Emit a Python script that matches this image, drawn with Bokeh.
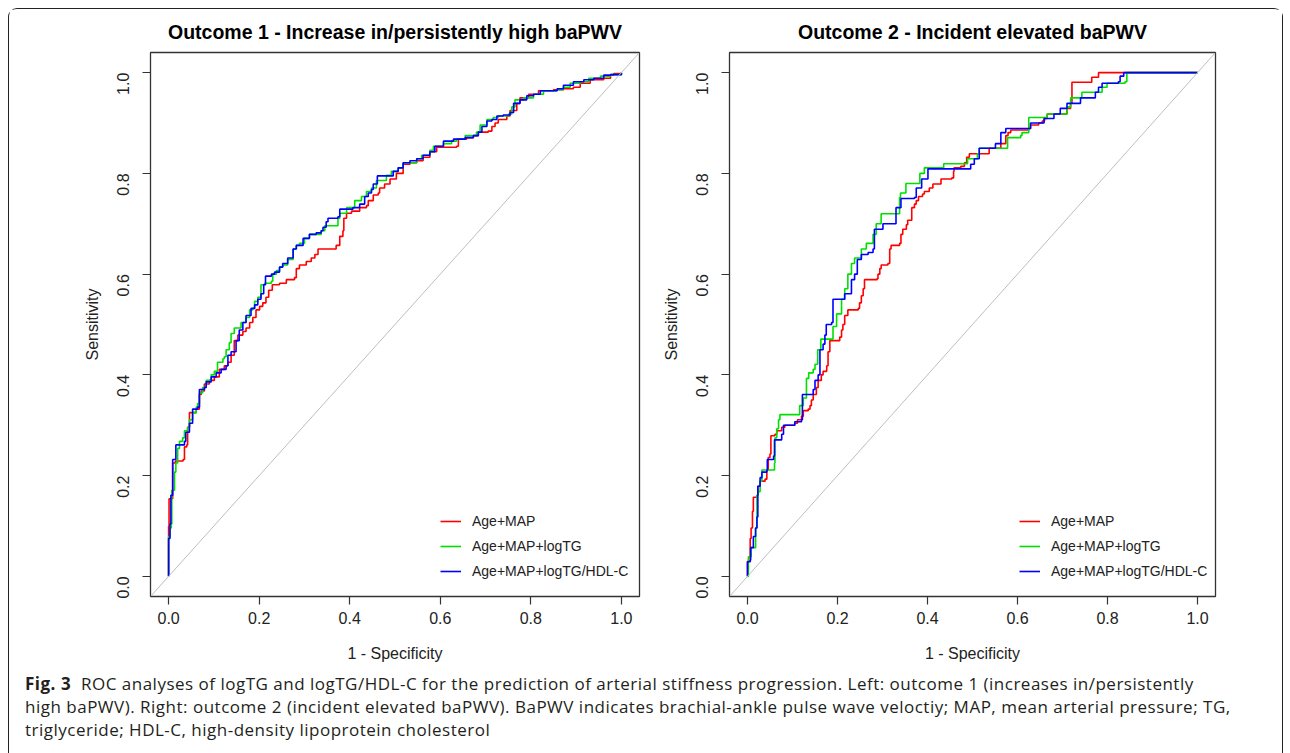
import math
from bokeh.plotting import figure
from bokeh.models import Range1d, Slope, FixedTicker, Div
from bokeh.layouts import row, column
from bokeh.embed import file_html
from bokeh.resources import INLINE

# ---------------- data (1 - specificity, sensitivity) ----------------
titles = ["Outcome 1 - Increase in/persistently high baPWV",
          "Outcome 2 - Incident elevated baPWV"]
series_names = ["Age+MAP", "Age+MAP+logTG", "Age+MAP+logTG/HDL-C"]
tick_values = [0.0, 0.2, 0.4, 0.6, 0.8, 1.0]
tick_labels = ["0.0", "0.2", "0.4", "0.6", "0.8", "1.0"]

# Outcome 1
o1_agemap_fpr = [0, 0, 0.001, 0.007, 0.009, 0.015, 0.032, 0.035, 0.040, 0.042, 0.046, 0.061, 0.068, 0.072,
                 0.079, 0.090, 0.101, 0.112, 0.123, 0.131, 0.138, 0.145, 0.153, 0.164, 0.171, 0.179, 0.186,
                 0.193, 0.201, 0.208, 0.215, 0.221, 0.229, 0.245, 0.260, 0.278, 0.282, 0.289, 0.304, 0.315,
                 0.323, 0.330, 0.359, 0.370, 0.378, 0.385, 0.387, 0.393, 0.404, 0.422, 0.437, 0.441, 0.452,
                 0.463, 0.466, 0.477, 0.489, 0.503, 0.518, 0.533, 0.548, 0.562, 0.577, 0.592, 0.636, 0.640,
                 0.658, 0.673, 0.684, 0.706, 0.714, 0.721, 0.728, 0.747, 0.754, 0.769, 0.776, 0.795, 0.817,
                 0.850, 0.872, 0.894, 0.909, 0.931, 0.961, 0.976, 0.983, 1.0]
o1_agemap_tpr = [0, 0.10, 0.154, 0.154, 0.225, 0.229, 0.232, 0.257, 0.261, 0.296, 0.325, 0.332, 0.361, 0.368,
                 0.382, 0.389, 0.396, 0.411, 0.418, 0.425, 0.439, 0.468, 0.479, 0.486, 0.493, 0.504, 0.514,
                 0.529, 0.536, 0.543, 0.554, 0.568, 0.579, 0.582, 0.589, 0.593, 0.611, 0.618, 0.625, 0.632,
                 0.639, 0.650, 0.650, 0.657, 0.675, 0.686, 0.711, 0.721, 0.725, 0.732, 0.736, 0.746, 0.757,
                 0.761, 0.771, 0.779, 0.789, 0.800, 0.818, 0.821, 0.825, 0.832, 0.843, 0.852, 0.854, 0.868,
                 0.871, 0.875, 0.882, 0.884, 0.893, 0.900, 0.907, 0.914, 0.925, 0.939, 0.950, 0.957, 0.964,
                 0.966, 0.968, 0.971, 0.979, 0.986, 0.989, 0.995, 0.998, 1.0]

o1_logtg_fpr = [0, 0, 0.003, 0.006, 0.007, 0.013, 0.016, 0.020, 0.024, 0.031, 0.035, 0.042, 0.046, 0.053,
                0.061, 0.064, 0.068, 0.075, 0.083, 0.094, 0.101, 0.108, 0.120, 0.123, 0.127, 0.134, 0.138,
                0.145, 0.156, 0.160, 0.171, 0.179, 0.186, 0.190, 0.197, 0.204, 0.212, 0.227, 0.230, 0.238,
                0.245, 0.252, 0.263, 0.275, 0.282, 0.289, 0.300, 0.311, 0.337, 0.345, 0.359, 0.374, 0.378,
                0.393, 0.411, 0.426, 0.437, 0.448, 0.459, 0.474, 0.481, 0.492, 0.507, 0.518, 0.548, 0.559,
                0.577, 0.585, 0.607, 0.625, 0.636, 0.655, 0.680, 0.688, 0.703, 0.717, 0.728, 0.751, 0.758,
                0.765, 0.784, 0.806, 0.828, 0.858, 0.872, 0.887, 0.909, 0.928, 0.954, 0.976, 1.0]
o1_logtg_tpr = [0, 0.079, 0.096, 0.104, 0.171, 0.207, 0.225, 0.254, 0.268, 0.275, 0.289, 0.296, 0.311, 0.325,
                0.336, 0.343, 0.364, 0.375, 0.389, 0.400, 0.407, 0.425, 0.432, 0.436, 0.450, 0.464, 0.482,
                0.493, 0.493, 0.504, 0.514, 0.529, 0.532, 0.546, 0.554, 0.579, 0.582, 0.586, 0.600, 0.607,
                0.614, 0.618, 0.629, 0.650, 0.657, 0.661, 0.671, 0.679, 0.686, 0.696, 0.696, 0.711, 0.721,
                0.732, 0.746, 0.754, 0.764, 0.771, 0.786, 0.786, 0.796, 0.804, 0.811, 0.821, 0.829, 0.836,
                0.846, 0.854, 0.859, 0.864, 0.868, 0.875, 0.882, 0.896, 0.907, 0.911, 0.914, 0.918, 0.932,
                0.946, 0.950, 0.957, 0.964, 0.966, 0.971, 0.979, 0.982, 0.989, 0.993, 0.996, 1.0]

o1_ratio_fpr = [0, 0, 0.003, 0.005, 0.009, 0.015, 0.016, 0.035, 0.038, 0.046, 0.053, 0.064, 0.068, 0.079,
                0.083, 0.094, 0.105, 0.116, 0.127, 0.131, 0.138, 0.149, 0.156, 0.164, 0.171, 0.182, 0.190,
                0.197, 0.204, 0.210, 0.214, 0.227, 0.234, 0.245, 0.252, 0.263, 0.275, 0.282, 0.297, 0.311,
                0.326, 0.337, 0.341, 0.348, 0.352, 0.374, 0.378, 0.407, 0.422, 0.433, 0.441, 0.448, 0.452,
                0.461, 0.485, 0.496, 0.507, 0.518, 0.533, 0.548, 0.562, 0.577, 0.588, 0.607, 0.629, 0.655,
                0.673, 0.684, 0.692, 0.703, 0.714, 0.725, 0.739, 0.754, 0.762, 0.776, 0.791, 0.806, 0.821,
                0.858, 0.872, 0.894, 0.917, 0.939, 0.961, 0.976, 1.0]
o1_ratio_tpr = [0, 0.075, 0.104, 0.161, 0.232, 0.232, 0.261, 0.268, 0.286, 0.304, 0.332, 0.336, 0.371, 0.375,
                0.386, 0.396, 0.404, 0.411, 0.418, 0.439, 0.446, 0.468, 0.489, 0.504, 0.518, 0.532, 0.539,
                0.550, 0.561, 0.579, 0.596, 0.600, 0.604, 0.614, 0.621, 0.632, 0.650, 0.657, 0.671, 0.679,
                0.682, 0.686, 0.693, 0.704, 0.711, 0.714, 0.729, 0.732, 0.739, 0.754, 0.761, 0.768, 0.779,
                0.795, 0.795, 0.804, 0.811, 0.821, 0.825, 0.829, 0.836, 0.843, 0.854, 0.864, 0.868, 0.871,
                0.875, 0.882, 0.893, 0.904, 0.907, 0.914, 0.916, 0.921, 0.939, 0.946, 0.954, 0.957, 0.964,
                0.968, 0.975, 0.982, 0.986, 0.989, 0.995, 0.996, 1.0]

# Outcome 2
o2_agemap_fpr = [0, 0, 0.006, 0.008, 0.011, 0.013, 0.021, 0.023, 0.028, 0.039, 0.043, 0.046, 0.050, 0.052,
                 0.061, 0.065, 0.076, 0.083, 0.105, 0.111, 0.120, 0.124, 0.135, 0.139, 0.142, 0.146, 0.153,
                 0.157, 0.164, 0.168, 0.176, 0.179, 0.183, 0.205, 0.209, 0.212, 0.216, 0.223, 0.246, 0.249,
                 0.253, 0.257, 0.260, 0.288, 0.290, 0.294, 0.297, 0.312, 0.316, 0.319, 0.338, 0.341, 0.345,
                 0.353, 0.356, 0.365, 0.371, 0.375, 0.380, 0.389, 0.393, 0.404, 0.412, 0.430, 0.454, 0.458,
                 0.459, 0.474, 0.482, 0.487, 0.493, 0.533, 0.537, 0.563, 0.574, 0.579, 0.585, 0.625, 0.629,
                 0.647, 0.655, 0.660, 0.666, 0.710, 0.718, 0.721, 0.765, 0.765, 0.780, 0.780, 1.0]
o2_agemap_tpr = [0, 0.03, 0.075, 0.096, 0.129, 0.157, 0.161, 0.179, 0.189, 0.193, 0.211, 0.236, 0.243, 0.279,
                 0.282, 0.289, 0.296, 0.300, 0.304, 0.311, 0.318, 0.329, 0.332, 0.339, 0.350, 0.361, 0.375,
                 0.389, 0.400, 0.407, 0.418, 0.446, 0.468, 0.475, 0.489, 0.500, 0.518, 0.529, 0.532, 0.543,
                 0.557, 0.571, 0.589, 0.591, 0.600, 0.611, 0.618, 0.621, 0.650, 0.657, 0.661, 0.679, 0.689,
                 0.698, 0.707, 0.732, 0.739, 0.746, 0.754, 0.759, 0.764, 0.771, 0.779, 0.789, 0.791, 0.804,
                 0.811, 0.814, 0.821, 0.832, 0.839, 0.839, 0.850, 0.859, 0.875, 0.881, 0.886, 0.889, 0.896,
                 0.900, 0.904, 0.909, 0.918, 0.929, 0.939, 0.981, 0.981, 0.991, 0.995, 1.0, 1.0]

o2_logtg_fpr = [0, 0.002, 0.006, 0.008, 0.017, 0.018, 0.021, 0.024, 0.028, 0.032, 0.058, 0.060, 0.061, 0.065,
                0.069, 0.072, 0.113, 0.116, 0.124, 0.131, 0.136, 0.146, 0.150, 0.156, 0.163, 0.183, 0.190,
                0.198, 0.205, 0.209, 0.216, 0.223, 0.231, 0.238, 0.253, 0.264, 0.275, 0.279, 0.286, 0.297,
                0.330, 0.338, 0.340, 0.352, 0.380, 0.383, 0.393, 0.434, 0.436, 0.485, 0.489, 0.511, 0.515,
                0.574, 0.578, 0.607, 0.610, 0.622, 0.625, 0.655, 0.666, 0.684, 0.710, 0.718, 0.743, 0.773,
                0.788, 0.799, 0.839, 0.843, 1.0]
o2_logtg_tpr = [0, 0.039, 0.039, 0.057, 0.057, 0.096, 0.161, 0.168, 0.189, 0.211, 0.211, 0.225, 0.275, 0.293,
                0.311, 0.321, 0.321, 0.339, 0.354, 0.393, 0.404, 0.411, 0.421, 0.450, 0.471, 0.471, 0.496,
                0.521, 0.521, 0.550, 0.571, 0.600, 0.621, 0.632, 0.650, 0.661, 0.661, 0.679, 0.700, 0.720,
                0.720, 0.752, 0.761, 0.780, 0.780, 0.800, 0.811, 0.811, 0.819, 0.819, 0.829, 0.839, 0.850,
                0.850, 0.871, 0.875, 0.881, 0.881, 0.911, 0.911, 0.918, 0.918, 0.932, 0.950, 0.961, 0.961,
                0.971, 0.979, 0.982, 1.0, 1.0]

o2_ratio_fpr = [0, 0, 0.006, 0.007, 0.013, 0.018, 0.021, 0.023, 0.028, 0.032, 0.043, 0.044, 0.054, 0.058,
                0.060, 0.076, 0.080, 0.105, 0.120, 0.122, 0.142, 0.146, 0.150, 0.157, 0.161, 0.168, 0.172,
                0.175, 0.187, 0.190, 0.212, 0.216, 0.227, 0.231, 0.238, 0.244, 0.253, 0.268, 0.279, 0.282,
                0.301, 0.327, 0.330, 0.341, 0.371, 0.375, 0.387, 0.401, 0.493, 0.496, 0.504, 0.515, 0.548,
                0.551, 0.561, 0.563, 0.574, 0.625, 0.629, 0.655, 0.659, 0.681, 0.695, 0.710, 0.740, 0.773,
                0.780, 0.788, 0.824, 0.828, 0.836, 1.0]
o2_ratio_tpr = [0, 0.029, 0.032, 0.057, 0.079, 0.096, 0.118, 0.179, 0.196, 0.207, 0.211, 0.232, 0.232, 0.239,
                0.271, 0.282, 0.300, 0.307, 0.311, 0.361, 0.361, 0.371, 0.389, 0.400, 0.450, 0.461, 0.479,
                0.500, 0.504, 0.550, 0.550, 0.561, 0.561, 0.589, 0.600, 0.629, 0.639, 0.643, 0.650, 0.689,
                0.700, 0.700, 0.732, 0.750, 0.752, 0.771, 0.789, 0.809, 0.809, 0.818, 0.829, 0.850, 0.850,
                0.859, 0.859, 0.881, 0.889, 0.889, 0.900, 0.900, 0.909, 0.918, 0.929, 0.939, 0.950, 0.961,
                0.971, 0.979, 0.982, 0.993, 1.0, 1.0]

panels = [
    [(o1_agemap_fpr, o1_agemap_tpr), (o1_logtg_fpr, o1_logtg_tpr), (o1_ratio_fpr, o1_ratio_tpr)],
    [(o2_agemap_fpr, o2_agemap_tpr), (o2_logtg_fpr, o2_logtg_tpr), (o2_ratio_fpr, o2_ratio_tpr)],
]

colors = ["#FF0000", "#00E000", "#0000FF"]
FONT = "Liberation Sans"


def make_panel(title, curves, width, border_left, border_right):
    p = figure(width=width, height=658, output_backend="svg", toolbar_location=None,
               x_range=Range1d(-0.04, 1.04), y_range=Range1d(-0.04, 1.04),
               min_border_left=border_left, min_border_right=border_right,
               min_border_top=43, min_border_bottom=71)
    p.title.text = title
    p.title.align = "center"
    p.title.text_font = FONT
    p.title.text_font_style = "bold"
    p.title.text_font_size = "19.5px"
    p.title.text_color = "#000000"
    p.title.standoff = 19
    p.grid.visible = False
    p.outline_line_color = "#333333"
    p.outline_line_width = 1.3
    p.background_fill_color = "white"
    p.border_fill_color = "white"

    for ax in (p.xaxis, p.yaxis):
        ax.ticker = FixedTicker(ticks=tick_values)
        ax.major_label_overrides = dict(zip(tick_values, tick_labels))
        ax.axis_line_color = None
        ax.major_tick_in = 0
        ax.major_tick_out = 8
        ax.major_tick_line_color = "#333333"
        ax.major_tick_line_width = 1.2
        ax.minor_tick_line_color = None
        ax.major_label_text_font = FONT
        ax.major_label_text_font_size = "16px"
        ax.major_label_text_color = "#222222"
        ax.axis_label_text_font = FONT
        ax.axis_label_text_font_size = "16px"
        ax.axis_label_text_font_style = "normal"
        ax.axis_label_text_color = "#222222"
    p.xaxis.axis_label = "1 - Specificity"
    p.yaxis.axis_label = "Sensitivity"
    p.xaxis.major_label_standoff = 7
    p.xaxis.axis_label_standoff = 18
    p.yaxis.major_label_orientation = math.pi / 2
    p.yaxis.major_label_standoff = 19
    p.yaxis.axis_label_standoff = 8

    p.add_layout(Slope(gradient=1, y_intercept=0, line_color="#BEBEBE", line_width=1))

    for (fx, ty), name, col in zip(curves, series_names, colors):
        p.step(fx, ty, mode="after", line_color=col, line_width=1.6, legend_label=name)

    lg = p.legend[0]
    lg.location = (290, 15)
    lg.border_line_color = None
    lg.background_fill_alpha = 0
    lg.padding = 0
    lg.margin = 0
    lg.spacing = 5
    lg.label_height = 20
    lg.glyph_height = 20
    lg.glyph_width = 21
    lg.label_standoff = 11
    lg.label_text_font = FONT
    lg.label_text_font_size = "14px"
    lg.label_text_color = "#222222"
    return p


p1 = make_panel(titles[0], panels[0], 650, 141, 20)
p2 = make_panel(titles[1], panels[1], 623, 68, 67)

caption = Div(
    text=("<b>Fig. 3</b>&nbsp; ROC analyses of logTG and logTG/HDL-C for the prediction of arterial stiffness "
          "progression. Left: outcome 1 (increases in/persistently<br>"
          "high baPWV). Right: outcome 2 (incident elevated baPWV). BaPWV indicates brachial-ankle pulse wave "
          "veloctiy; MAP, mean arterial pressure; TG,<br>"
          "triglyceride; HDL-C, high-density lipoprotein cholesterol"),
    width=1262, height=78,
    styles={"font-family": "'Open Sans', sans-serif", "font-size": "17px", "line-height": "23px",
            "color": "#231F20", "padding-left": "11px", "white-space": "nowrap",
            "letter-spacing": "0.5px"},
)

layout = column(row(p1, p2), caption,
                styles={"border": "1.5px solid #222222", "border-bottom": "none",
                        "border-radius": "9px 9px 0 0", "margin-left": "8px", "margin-top": "8px"})

open("out.html", "w").write(file_html(layout, INLINE))
